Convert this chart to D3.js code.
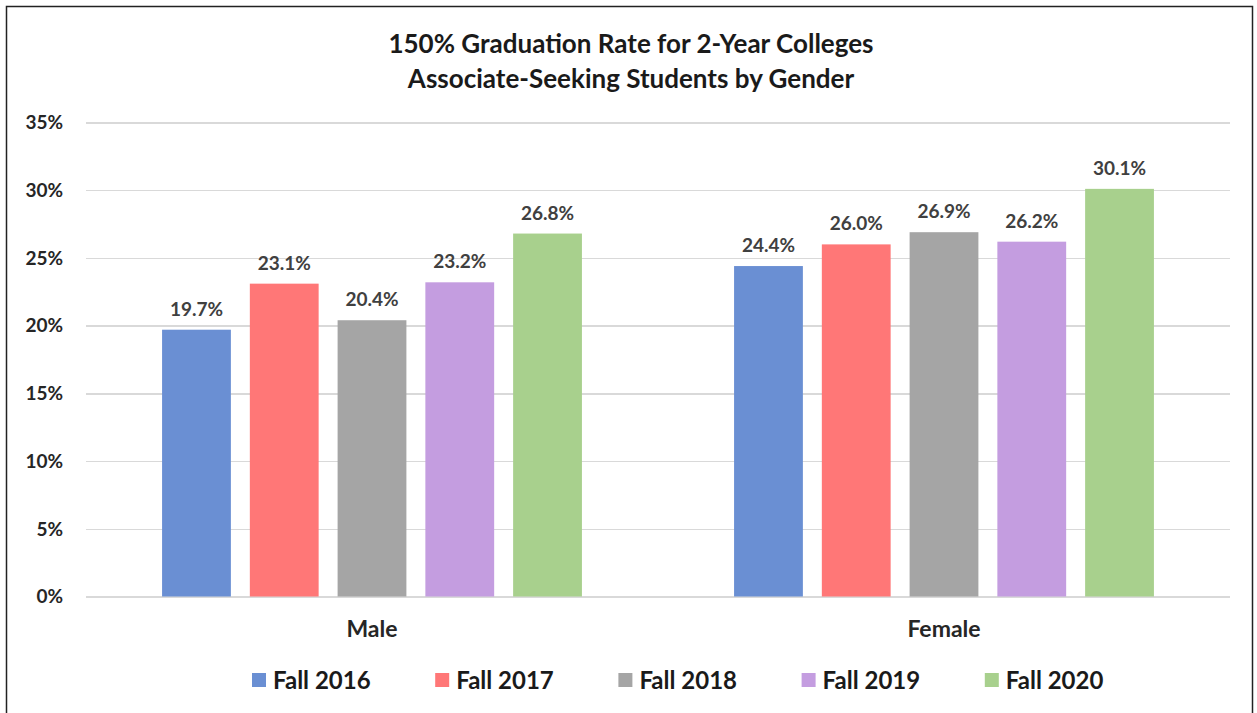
<!DOCTYPE html>
<meta charset="utf-8">
<script src="https://d3js.org/d3.v7.min.js"></script>
<style>
body { margin: 0; background: #fff; font-family: Lato, "Open Sans", Arial, sans-serif; }
.grid line { stroke: #d9d9d9; stroke-width: 1.5; shape-rendering: crispEdges; }
.grid path { display: none; }
</style>
<body>
<script>
// chart data
var groups = ["Male", "Female"];
var series = ["Fall 2016", "Fall 2017", "Fall 2018", "Fall 2019", "Fall 2020"];
var male = [19.7, 23.1, 20.4, 23.2, 26.8];
var female = [24.4, 26.0, 26.9, 26.2, 30.1];
var colors = ["#6a8fd3", "#ff7777", "#a5a5a5", "#c49de0", "#a8d08d"];
var yTicks = [0, 5, 10, 15, 20, 25, 30, 35];
var titleLines = ["150% Graduation Rate for 2-Year Colleges", "Associate-Seeking Students by Gender"];

var width = 1257, height = 713;
var plotLeft = 86, plotRight = 1230, plotTop = 122.5, plotBottom = 596.5;

var svg = d3.select("body").append("svg")
    .attr("width", width)
    .attr("height", height);

// outer frame
svg.append("rect")
    .attr("x", 6.5).attr("y", 6.5)
    .attr("width", 1246).attr("height", 720)
    .attr("fill", "none")
    .attr("stroke", "#222")
    .attr("stroke-width", 1.5);

var rows = groups.map(function(g, i) {
    return { group: g, values: i == 0 ? male : female };
});

var x0 = d3.scaleBand()
    .domain(groups)
    .range([plotLeft, plotRight])
    .paddingInner(0.266)
    .paddingOuter(0.133);

var x1 = d3.scaleBand()
    .domain(series)
    .range([0, x0.bandwidth()])
    .paddingInner(0.216)
    .paddingOuter(0);

var y = d3.scaleLinear()
    .domain([0, 35])
    .range([plotBottom, plotTop]);

// gridlines
svg.append("g")
    .attr("class", "grid")
    .attr("transform", "translate(" + plotLeft + ",0)")
    .call(d3.axisLeft(y).tickValues(yTicks).tickSize(-(plotRight - plotLeft)).tickFormat(""));

// y tick labels
svg.append("g").selectAll("text")
    .data(yTicks)
    .enter().append("text")
    .attr("x", 63)
    .attr("y", function(d) { return y(d); })
    .attr("dy", "0.36em")
    .attr("text-anchor", "end")
    .attr("font-size", 19)
    .attr("font-weight", "bold")
    .attr("fill", "#262626")
    .text(function(d) { return d + "%"; });

// bars
var g = svg.append("g").selectAll("g")
    .data(rows)
    .enter().append("g")
    .attr("transform", function(d) { return "translate(" + x0(d.group) + ",0)"; });

g.selectAll("rect")
    .data(function(d) { return d.values.map(function(v, i) { return { s: series[i], v: v, i: i }; }); })
    .enter().append("rect")
    .attr("x", function(d) { return x1(d.s); })
    .attr("y", function(d) { return y(d.v); })
    .attr("width", x1.bandwidth())
    .attr("height", function(d) { return y(0) - y(d.v); })
    .attr("fill", function(d) { return colors[d.i]; });

g.selectAll("text")
    .data(function(d) { return d.values.map(function(v, i) { return { s: series[i], v: v }; }); })
    .enter().append("text")
    .attr("x", function(d) { return x1(d.s) + x1.bandwidth() / 2; })
    .attr("y", function(d) { return y(d.v) - 14; })
    .attr("text-anchor", "middle")
    .attr("font-size", 19)
    .attr("font-weight", "bold")
    .attr("fill", "#404040")
    .text(function(d) { return d.v.toFixed(1) + "%"; });

// category labels
svg.append("g").selectAll("text")
    .data(groups)
    .enter().append("text")
    .attr("x", function(d) { return x0(d) + x0.bandwidth() / 2; })
    .attr("y", 637)
    .attr("text-anchor", "middle")
    .attr("font-size", 23)
    .attr("font-weight", "bold")
    .attr("fill", "#262626")
    .text(function(d) { return d; });

// title
svg.append("g").selectAll("text")
    .data(titleLines)
    .enter().append("text")
    .attr("x", 631)
    .attr("y", function(d, i) { return 53 + i * 35; })
    .attr("text-anchor", "middle")
    .attr("font-size", 26)
    .attr("font-weight", "bold")
    .attr("fill", "#1a1a1a")
    .text(function(d) { return d; });

// legend
var leg = svg.append("g").selectAll("g")
    .data(series)
    .enter().append("g")
    .attr("transform", function(d, i) { return "translate(" + (252 + i * 183.2) + ",673)"; });

leg.append("rect")
    .attr("width", 14).attr("height", 14)
    .attr("fill", function(d, i) { return colors[i]; });

leg.append("text")
    .attr("x", 21)
    .attr("y", 7)
    .attr("dy", "0.36em")
    .attr("font-size", 24)
    .attr("font-weight", "bold")
    .attr("fill", "#1a1a1a")
    .text(function(d) { return d; });
</script>
</body>
</html>
